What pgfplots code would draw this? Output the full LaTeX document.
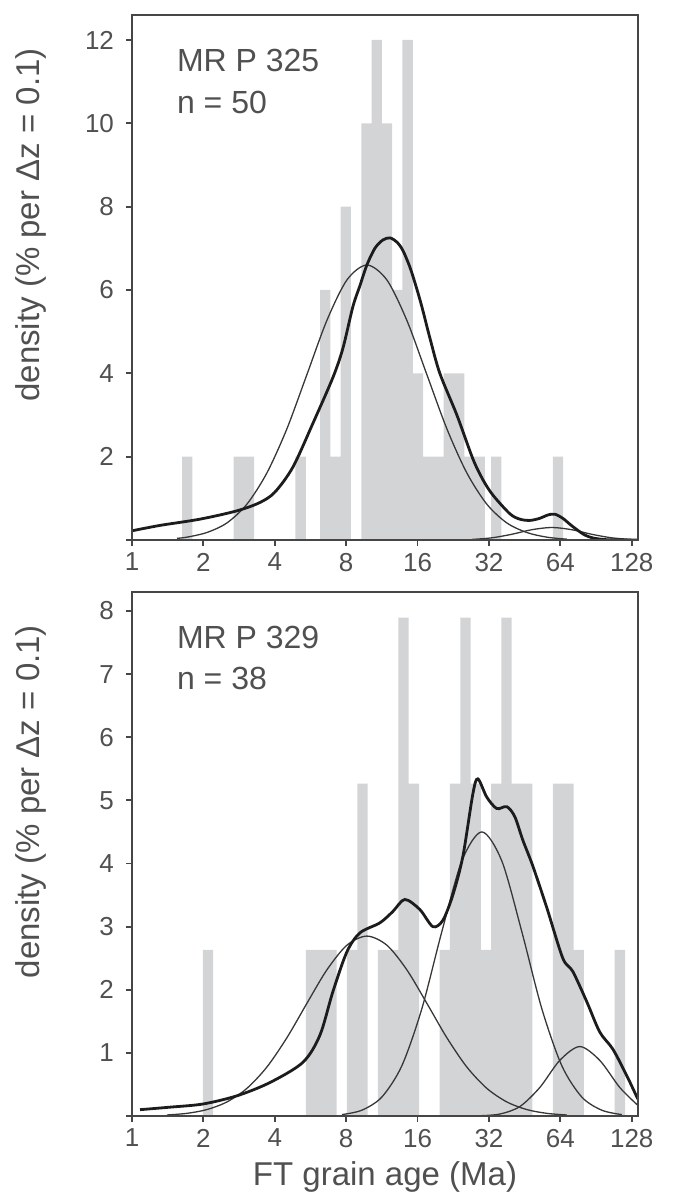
\documentclass[border=0pt]{standalone}
\usepackage{fontspec}
\setmainfont{Liberation Sans}
\usepackage{pgfplots}
\pgfplotsset{compat=1.18}

\definecolor{bargray}{RGB}{211,212,214}
\definecolor{txtgray}{RGB}{80,80,80}
\definecolor{axgray}{RGB}{70,70,70}
\definecolor{kdecol}{RGB}{28,28,28}
\definecolor{compcol}{RGB}{55,55,55}

\pgfplotsset{
  histbar/.style={const plot mark left, fill=bargray, draw=none},
  kdeline/.style={kdecol, line width=1.4pt, smooth, no markers},
  compline/.style={compcol, line width=0.65pt, smooth, no markers},
}
\tikzset{tagnode/.style={anchor=base west, font=\fontsize{16}{19}\selectfont, text=txtgray}}

\begin{document}
\begin{tikzpicture}
\path[use as bounding box] (0,0) rectangle (337pt,600pt);

% MR P 325
\begin{axis}[at={(66pt,330pt)}, anchor=south west,
  scale only axis, width=253pt, height=262.5pt,
  xmode=log, log basis x=2, xmin=1, xmax=136,
  xtick={1,2,4,8,16,32,64,128}, xticklabels={1,2,4,8,16,32,64,128},
  minor xtick={},
  ymin=0, ymax=12.6, ytick={0,2,4,6,8,10,12}, yticklabels={,2,4,6,8,10,12},
  tick align=outside, major tick length=3pt,
  xtick pos=left, ytick pos=left,
  axis line style={axgray, line width=1pt},
  every tick/.style={axgray, line width=0.9pt},
  tick label style={font=\fontsize{13}{15}\selectfont, text=txtgray},
  yticklabel style={xshift=-2.5pt},
  every axis y label/.style={at={(axis description cs:-0.2,0.6)}, rotate=90, anchor=center,
    font=\fontsize{16.5}{19}\selectfont, text=txtgray},
  axis on top,
  ylabel={density (\% per Δz = 0.1)}]
  \addplot[histbar] coordinates {
    (1.627,2) (1.798,0) (2.683,2) (3.277,0) (4.889,2) (5.403,0) (6.210,6)
    (6.863,2) (7.585,8) (8.382,0) (9.264,10) (10.239,12) (11.315,10) (12.505,6)
    (13.821,12) (15.273,4) (16.880,2) (18.656,2) (20.617,4) (22.785,4)
    (25.183,2) (27.830,2) (30.758,0) (32.685,2) (36.122,0) (59.56,2) (65.82,0)
  } \closedcycle;
  \addplot[compline] coordinates {
    (1.548,0.04)(1.705,0.068)(2.070,0.18)(2.514,0.41)(3.052,0.86)(3.706,1.61)
    (4.500,2.67)(5.464,3.97)(6.634,5.27)(8.056,6.24)(9.781,6.6)(11.88,6.24)
    (14.42,5.27)(17.51,3.97)(21.26,2.67)(25.81,1.61)(31.34,0.86)(38.05,0.41)
    (46.2,0.18)(56.1,0.068)(68.1,0.02)
  };
  \addplot[compline] coordinates {
    (27.1,0.013)(32.9,0.052)(39.95,0.137)(48.5,0.247)(58.9,0.3)(71.5,0.247)
    (86.8,0.137)(105.4,0.052)(128,0.013)
  };
  \addplot[kdeline] coordinates {
    (1.0,0.22)(1.312,0.35)(1.935,0.5)(2.770,0.7)(3.463,0.9)(4.006,1.15)
    (4.770,1.75)(5.792,2.8)(7.033,3.9)(7.750,4.6)(8.538,5.6)(9.139,6.1)
    (9.781,6.6)(10.57,7.0)(11.42,7.2)(12.23,7.25)(13.09,7.15)(13.87,6.95)
    (14.85,6.55)(15.74,6.1)(16.68,5.6)(18.03,4.85)(19.86,4.0)(23.43,3.0)
    (27.36,1.95)(30.15,1.45)(33.22,1.08)(39.18,0.63)(43.17,0.5)(47.57,0.47)
    (52.43,0.52)(56.65,0.6)(60.64,0.62)(65.53,0.52)(70.13,0.38)(75.06,0.25)
    (81.11,0.12)(87.67,0.05)(98.5,0.01)(113.95,0)(136,0)
  };
  \node[tagnode] at (axis description cs:0.075,0.893) {MR P 325};
  \node[tagnode] at (axis description cs:0.075,0.813) {n = 50};
\end{axis}

% MR P 329
\begin{axis}[at={(66pt,42pt)}, anchor=south west,
  scale only axis, width=253pt, height=262pt,
  xmode=log, log basis x=2, xmin=1, xmax=136,
  xtick={1,2,4,8,16,32,64,128}, xticklabels={1,2,4,8,16,32,64,128},
  minor xtick={},
  ymin=0, ymax=8.3, ytick={0,1,2,3,4,5,6,7,8}, yticklabels={,1,2,3,4,5,6,7,8},
  tick align=outside, major tick length=3pt,
  xtick pos=left, ytick pos=left,
  axis line style={axgray, line width=1pt},
  every tick/.style={axgray, line width=0.9pt},
  tick label style={font=\fontsize{13}{15}\selectfont, text=txtgray},
  yticklabel style={xshift=-2.5pt},
  every axis y label/.style={at={(axis description cs:-0.2,0.6)}, rotate=90, anchor=center,
    font=\fontsize{16.5}{19}\selectfont, text=txtgray},
  xlabel style={font=\fontsize{16.5}{19}\selectfont, text=txtgray},
  axis on top,
  ylabel={density (\% per Δz = 0.1)}, xlabel={FT grain age (Ma)}]
  \addplot[histbar] coordinates {
    (1.988,2.632) (2.196,0) (5.403,2.632) (7.293,0) (8.06,2.632) (8.908,5.263)
    (9.845,0) (10.880,2.632) (13.289,7.895) (14.686,5.263) (16.231,0)
    (19.824,2.632) (21.909,5.263) (24.214,7.895) (26.760,5.263) (29.575,2.632)
    (32.685,5.263) (36.122,7.895) (39.92,5.263) (48.76,0) (59.56,5.263)
    (72.74,2.632) (80.39,0) (108.5,2.632) (119.9,0)
  } \closedcycle;
  \addplot[compline] coordinates {
    (1.404,0.016)(1.705,0.042)(2.070,0.102)(2.514,0.223)(3.052,0.438)
    (3.706,0.776)(4.500,1.24)(5.464,1.785)(6.634,2.315)(8.056,2.705)
    (9.781,2.85)(11.88,2.705)(14.42,2.315)(17.51,1.785)(21.26,1.24)
    (25.81,0.776)(31.34,0.438)(38.05,0.223)(46.2,0.102)(56.1,0.042)(68.1,0.016)
  };
  \addplot[compline] coordinates {
    (7.674,0.022)(9.318,0.092)(11.314,0.301)(13.74,0.797)(16.68,1.70)
    (20.25,2.92)(24.59,4.04)(29.86,4.5)(36.25,4.04)(44.02,2.92)(53.45,1.70)
    (64.9,0.797)(78.79,0.301)(95.67,0.092)(116.2,0.022)
  };
  \addplot[compline] coordinates {
    (26.0,0.001)(29.28,0.004)(35.56,0.031)(43.17,0.149)(52.43,0.452)
    (63.64,0.881)(77.28,1.1)(93.82,0.881)(113.95,0.452)(135.7,0.17)
  };
  \addplot[kdeline] coordinates {
    (1.081,0.1)(1.446,0.14)(1.992,0.19)(2.770,0.32)(3.816,0.53)(5.256,0.85)
    (6.199,1.28)(7.033,1.97)(8.056,2.6)(9.139,2.9)(11.10,3.06)(12.59,3.24)
    (14.14,3.43)(16.36,3.27)(18.56,3.0)(20.45,3.1)(22.53,3.5)(24.83,4.11)
    (27.36,5.1)(28.72,5.34)(31.34,5.05)(34.53,4.87)(38.05,4.9)(41.13,4.74)
    (44.45,4.37)(48.98,3.96)(56.1,3.3)(65.53,2.5)(72.2,2.29)(82.71,1.81)
    (93.82,1.33)(106.5,1.06)(121.9,0.64)(135.7,0.27)
  };
  \node[tagnode] at (axis description cs:0.075,0.893) {MR P 329};
  \node[tagnode] at (axis description cs:0.075,0.813) {n = 38};
\end{axis}
\end{tikzpicture}
\end{document}
